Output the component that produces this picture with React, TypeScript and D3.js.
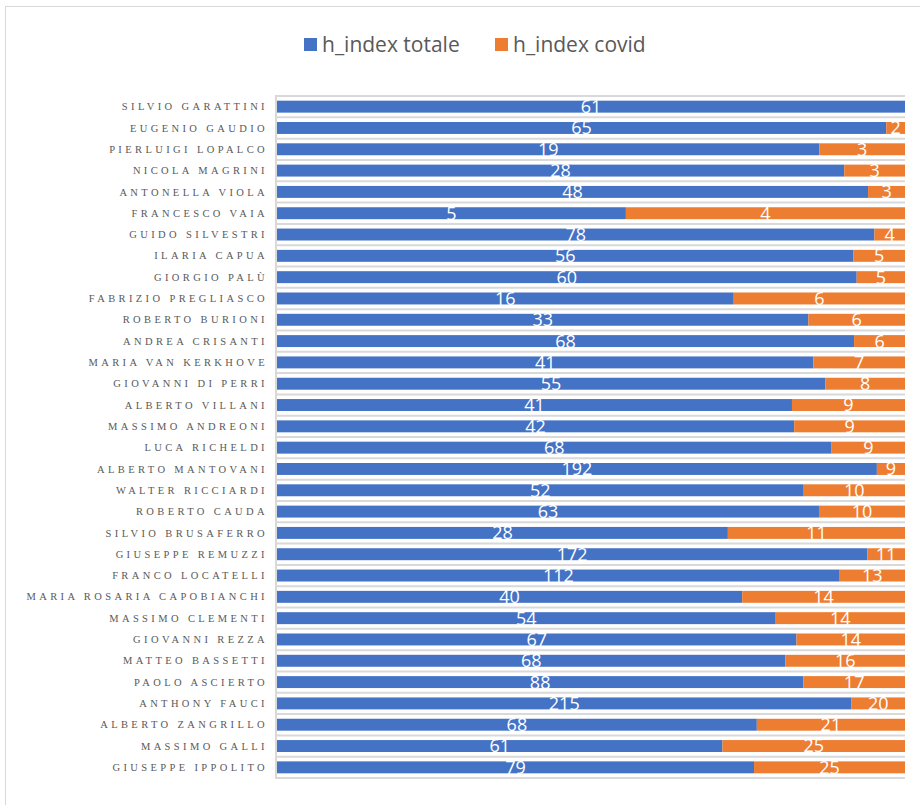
import React from "react";
import * as d3 from "d3";

const names = [
  "SILVIO GARATTINI", "EUGENIO GAUDIO", "PIERLUIGI LOPALCO", "NICOLA MAGRINI", "ANTONELLA VIOLA",
  "FRANCESCO VAIA", "GUIDO SILVESTRI", "ILARIA CAPUA", "GIORGIO PALÙ", "FABRIZIO PREGLIASCO",
  "ROBERTO BURIONI", "ANDREA CRISANTI", "MARIA VAN KERKHOVE", "GIOVANNI DI PERRI", "ALBERTO VILLANI",
  "MASSIMO ANDREONI", "LUCA RICHELDI", "ALBERTO MANTOVANI", "WALTER RICCIARDI", "ROBERTO CAUDA",
  "SILVIO BRUSAFERRO", "GIUSEPPE REMUZZI", "FRANCO LOCATELLI", "MARIA ROSARIA CAPOBIANCHI", "MASSIMO CLEMENTI",
  "GIOVANNI REZZA", "MATTEO BASSETTI", "PAOLO ASCIERTO", "ANTHONY FAUCI", "ALBERTO ZANGRILLO",
  "MASSIMO GALLI", "GIUSEPPE IPPOLITO",
];
const hTotale = [61, 65, 19, 28, 48, 5, 78, 56, 60, 16, 33, 68, 41, 55, 41, 42, 68, 192, 52, 63, 28, 172, 112, 40, 54, 67, 68, 88, 215, 68, 61, 79];
const hCovid = [0, 2, 3, 3, 3, 4, 4, 5, 5, 6, 6, 6, 7, 8, 9, 9, 9, 9, 10, 10, 11, 11, 13, 14, 14, 14, 16, 17, 20, 21, 25, 25];
const seriesNames = ["h_index totale", "h_index covid"];
const colors = ["#4472c4", "#ed7d31"];

export default function App() {
  const W = 920, H = 805;
  const left = 277, right = 905, top = 96, bottom = 778;
  const rows = names.map((n, i) => ({ name: n, t: hTotale[i], c: hCovid[i] }));
  const stack = d3.stack<any>().keys(["t", "c"]).offset(d3.stackOffsetExpand);
  const series = stack(rows);
  const x = d3.scaleLinear().domain([0, 1]).range([left, right]);
  const y = d3.scaleBand().domain(names).range([top, bottom]).paddingInner(0.44).paddingOuter(0.22);
  const step = y.step();
  const bw = y.bandwidth();
  const gridYs = d3.range(names.length + 1).map((i) => top + i * step);

  return (
    <svg width={W} height={H} style={{ position: "absolute", left: 0, top: 0, background: "#fff" }}>
      <rect x={5.5} y={6.5} width={930} height={830} fill="#fff" stroke="#d9d9d9" strokeWidth={1} />
      {/* legend */}
      <g fontFamily="'Open Sans', sans-serif" fontSize={21} fill="#595959">
        <rect x={304} y={38} width={13} height={13} fill={colors[0]} />
        <text x={322} y={51.5}>{seriesNames[0]}</text>
        <rect x={495} y={38} width={13} height={13} fill={colors[1]} />
        <text x={513} y={51.5}>{seriesNames[1]}</text>
      </g>
      {/* grid / band lines */}
      {gridYs.map((gy, i) => (
        <line key={i} x1={left - 1} x2={right} y1={gy} y2={gy} stroke="#d9d9d9" strokeWidth={2} />
      ))}
      <line x1={left - 1} x2={left - 1} y1={top - 1} y2={bottom + 1} stroke="#d9d9d9" strokeWidth={2} />
      {/* bars */}
      {series.map((s, si) => (
        <g key={si} fill={colors[si]}>
          {s.map((d: any, i: number) => (
            <rect key={i} x={x(d[0])} y={y(names[i])!} width={Math.max(0, x(d[1]) - x(d[0]))} height={bw} />
          ))}
        </g>
      ))}
      {/* value labels */}
      {series.map((s, si) => (
        <g key={"l" + si} fill="#fff" fontFamily="'Open Sans', sans-serif" fontSize={18} textAnchor="middle">
          {s.map((d: any, i: number) => {
            const v = si === 0 ? hTotale[i] : hCovid[i];
            if (!v) return null;
            return (
              <text key={i} x={(x(d[0]) + x(d[1])) / 2} y={y(names[i])! + bw + 0.5}>{v}</text>
            );
          })}
        </g>
      ))}
      {/* category labels */}
      <g fontFamily="'Liberation Serif', 'Times New Roman', serif" fontSize={10.5} fill="#595959" textAnchor="end" letterSpacing={3.38}>
        {names.map((n) => (
          <text key={n} x={268} y={y(n)! + bw / 2 + 3.6}>{n}</text>
        ))}
      </g>
    </svg>
  );
}
